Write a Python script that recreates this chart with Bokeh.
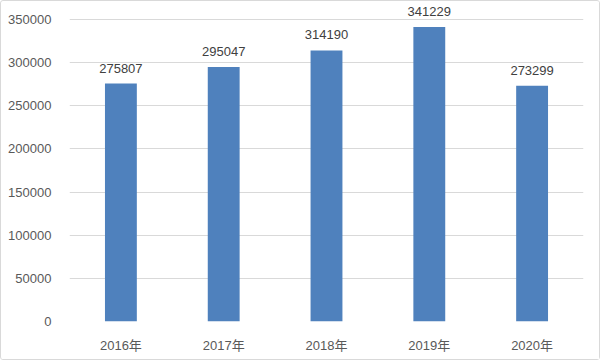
from bokeh.plotting import figure
from bokeh.models import ColumnDataSource, LabelSet, FactorRange, Range1d, FixedTicker, NumeralTickFormatter
from bokeh.core.properties import value
from bokeh.embed import file_html
from bokeh.resources import INLINE

years = ["2016年", "2017年", "2018年", "2019年", "2020年"]
values = [275807, 295047, 314190, 341229, 273299]
labels = [str(v) for v in values]
y_ticks = [0, 50000, 100000, 150000, 200000, 250000, 300000, 350000]

src = ColumnDataSource(dict(x=years, top=values, label=labels))

p = figure(width=600, height=360, x_range=FactorRange(*years), y_range=Range1d(0, 370900),
           output_backend="svg", toolbar_location=None,
           min_border_left=68, min_border_right=18, min_border_top=0, min_border_bottom=40)
p.outline_line_color = None
p.styles = {"border": "1px solid #d9d9d9", "border-radius": "3px"}

p.vbar(x="x", top="top", width=0.31, source=src, fill_color="#4F81BD", line_color=None)

p.add_layout(LabelSet(x="x", y="top", text="label", source=src, y_offset=11,
                      text_align="center", text_baseline="bottom", level="overlay",
                      text_font_size="13px", text_color="#404040",
                      text_font=value("Liberation Sans")))

p.yaxis.ticker = FixedTicker(ticks=y_ticks)
p.yaxis.formatter = NumeralTickFormatter(format="0")
p.ygrid.grid_line_color = "#d9d9d9"
p.xgrid.grid_line_color = None
for ax in (p.xaxis[0], p.yaxis[0]):
    ax.axis_line_color = None
    ax.major_tick_line_color = None
    ax.minor_tick_line_color = None
    ax.major_label_text_font_size = "13px"
    ax.major_label_text_color = "#595959"
p.yaxis.major_label_text_font = "Liberation Sans"
p.yaxis.major_label_standoff = 12
p.xaxis.major_label_text_font = "Liberation Sans, Noto Sans CJK SC"
p.xaxis.major_label_standoff = 10

open("out.html", "w").write(file_html(p, INLINE))
